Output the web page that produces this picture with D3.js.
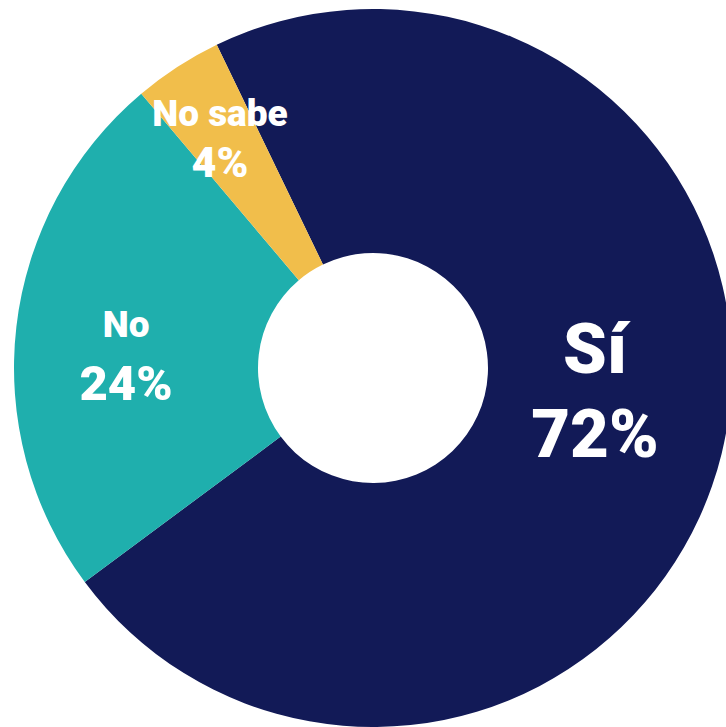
<!DOCTYPE html>
<html>
<head>
<meta charset="utf-8">
<script src="https://cdn.jsdelivr.net/npm/d3@7"></script>
<style>
  html, body { margin: 0; padding: 0; background: #ffffff; }
  svg { display: block; }
</style>
</head>
<body>
<svg id="chart" width="726" height="727"></svg>
<script>
// ---- data ----
const categories = ["Sí", "No", "No sabe"];
const values = [72, 24, 4];
const valueLabels = ["72%", "24%", "4%"];
const colors = ["#121A57", "#1FAFAD", "#F1BE4B"];

// ---- layout ----
const W = 726, H = 727;
const cx = 373, cy = 368;
const outerR = 359, innerR = 115;
const startDeg = -25.8;

// label placement (radius from center, baseline offsets, font sizes)
const labelStyle = [
  { r: 228.6, dy1: -49.5, dy2: 34.5, fs1: 70, fs2: 67 },
  { r: 248.6, dy1: -2.4, dy2: 60.6, fs1: 37, fs2: 49 },
  { r: 281, dy1: -6.3, dy2: 44.7, fs1: 37, fs2: 43 }
];

const svg = d3.select("#chart");
const g = svg.append("g").attr("transform", `translate(${cx},${cy})`);

const start = startDeg * Math.PI / 180;
const pie = d3.pie().sort(null).value(d => d)
  .startAngle(start).endAngle(start + 2 * Math.PI);
const arcs = pie(values);
const arc = d3.arc().innerRadius(innerR).outerRadius(outerR);

g.selectAll("path.slice").data(arcs).enter().append("path")
  .attr("class", "slice")
  .attr("d", arc)
  .attr("fill", (d, i) => colors[i]);

const labels = g.selectAll("g.lbl").data(arcs).enter().append("g")
  .attr("class", "lbl")
  .attr("transform", (d, i) => {
    const a = (d.startAngle + d.endAngle) / 2;
    const [x, y] = d3.pointRadial(a, labelStyle[i].r);
    return `translate(${x},${y})`;
  });

labels.append("text")
  .attr("text-anchor", "middle")
  .attr("y", (d, i) => labelStyle[i].dy1)
  .attr("font-family", "Roboto, 'Noto Sans', sans-serif")
  .attr("font-weight", 900)
  .attr("font-size", (d, i) => labelStyle[i].fs1)
  .attr("fill", "#ffffff")
  .text((d, i) => categories[i]);

labels.append("text")
  .attr("text-anchor", "middle")
  .attr("y", (d, i) => labelStyle[i].dy2)
  .attr("font-family", "Roboto, 'Noto Sans', sans-serif")
  .attr("font-weight", 900)
  .attr("font-size", (d, i) => labelStyle[i].fs2)
  .attr("fill", "#ffffff")
  .text((d, i) => valueLabels[i]);
</script>
</body>
</html>
